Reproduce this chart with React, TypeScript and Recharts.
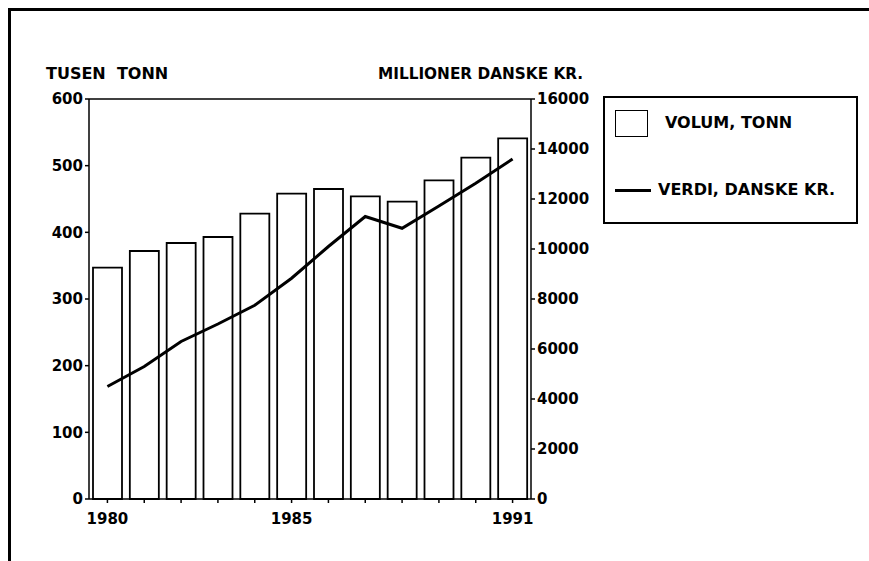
import React from "react";
import { ComposedChart, Bar, Line, XAxis, YAxis, ReferenceLine, Label } from "recharts";

const years = ["1980", "1981", "1982", "1983", "1984", "1985", "1986", "1987", "1988", "1989", "1990", "1991"];
const volum = [347, 372, 384, 393, 428, 458, 465, 454, 446, 478, 512, 541];
const verdi = [4500, 5300, 6300, 7000, 7750, 8830, 10100, 11300, 10830, 11720, 12630, 13600];
const shownYears = ["1980", "1985", "1991"];
const leftTicks = [0, 100, 200, 300, 400, 500, 600];
const rightTicks = [0, 2000, 4000, 6000, 8000, 10000, 12000, 14000, 16000];

const data = years.map((year, i) => ({ year, volum: volum[i], verdi: verdi[i] }));

const FONT = "'DejaVu Sans', sans-serif";
const tickStyle = { fill: "#000", fontSize: 15, fontWeight: 700, fontFamily: FONT };

const AxisTitle = ({ viewBox, text, dx, size }: any) => (
  <text
    x={viewBox.x + dx}
    y={viewBox.y - 20}
    fill="#000"
    fontSize={size}
    fontWeight={700}
    fontFamily={FONT}
    style={{ whiteSpace: "pre" }}
  >
    {text}
  </text>
);

export default function App() {
  return (
    <div style={{ position: "absolute", left: 0, top: 0, width: 869, height: 561, background: "#fff" }}>
      {/* page frame */}
      <div style={{ position: "absolute", left: 8, top: 8, right: 0, bottom: 0, borderTop: "3px solid #000", borderLeft: "3px solid #000" }} />
      <ComposedChart width={869} height={561} data={data} margin={{ top: 99, right: 278, bottom: 32, left: 39 }}>
        <XAxis
          dataKey="year"
          interval={0}
          tickSize={4}
          tickMargin={10}
          height={30}
          tick={tickStyle}
          tickFormatter={(v) => (shownYears.includes(v) ? v : "")}
          axisLine={{ stroke: "#000", strokeWidth: 1.5 }}
          tickLine={{ stroke: "#000", strokeWidth: 1.5 }}
        />
        <YAxis
          yAxisId="left"
          domain={[0, 600]}
          ticks={leftTicks}
          width={50}
          tickSize={4}
          tick={tickStyle}
          axisLine={{ stroke: "#000", strokeWidth: 1.5 }}
          tickLine={{ stroke: "#000", strokeWidth: 1.5 }}
        >
          <Label content={(p: any) => <AxisTitle viewBox={p.viewBox} text={"TUSEN\u00A0 TONN"} dx={7} size={16} />} />
        </YAxis>
        <YAxis
          yAxisId="right"
          orientation="right"
          domain={[0, 16000]}
          ticks={rightTicks}
          width={60}
          tickSize={4}
          tick={tickStyle}
          axisLine={{ stroke: "#000", strokeWidth: 1.5 }}
          tickLine={{ stroke: "#000", strokeWidth: 1.5 }}
        >
          <Label content={(p: any) => <AxisTitle viewBox={p.viewBox} text="MILLIONER DANSKE KR." dx={-153} size={15.3} />} />
        </YAxis>
        <ReferenceLine yAxisId="left" y={600} stroke="#000" strokeWidth={1.5} />
        <Bar yAxisId="left" dataKey="volum" barSize={29} fill="#fff" stroke="#000" strokeWidth={1.8} isAnimationActive={false} />
        <Line yAxisId="right" type="linear" dataKey="verdi" stroke="#000" strokeWidth={3} dot={false} isAnimationActive={false} />
      </ComposedChart>
      {/* legend */}
      <div style={{ position: "absolute", left: 603, top: 96, width: 251, height: 124, border: "2px solid #000", fontFamily: FONT, fontWeight: 700, fontSize: 16, color: "#000" }}>
        <div style={{ position: "absolute", left: 10, top: 12, width: 31, height: 25, border: "1.5px solid #000" }} />
        <div style={{ position: "absolute", left: 60, top: 15, lineHeight: "20px", whiteSpace: "nowrap" }}>VOLUM, TONN</div>
        <div style={{ position: "absolute", left: 10, top: 91, width: 36, height: 3, background: "#000" }} />
        <div style={{ position: "absolute", left: 53, top: 82, lineHeight: "20px", whiteSpace: "nowrap" }}>VERDI, DANSKE KR.</div>
      </div>
    </div>
  );
}
